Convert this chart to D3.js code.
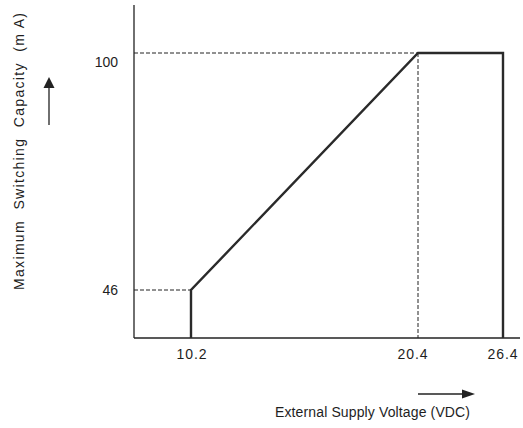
<!DOCTYPE html>
<html><head><meta charset="utf-8">
<script src="https://cdn.jsdelivr.net/npm/d3@7"></script>
<style>
body{margin:0;background:#fff;}
text{font-family:"Liberation Sans",Arial,sans-serif;fill:#1e1e1e;white-space:pre;}
</style></head><body>
<svg id="c" width="523" height="428"></svg>
<script>
// Data
const xTicks = [10.2, 20.4, 26.4];
const xTickLabels = ["10.2", "20.4", "26.4"];
const yTicks = [46, 100];
const yTickLabels = ["46", "100"];
const curveX = [10.2, 10.2, 20.4, 26.4, 26.4];
const curveY = [null, 46, 100, 100, null]; // null = down to the x axis
const xTitle = "External Supply Voltage (VDC)";
const yTitle = "Maximum  Switching  Capacity  (m A)";

const svg = d3.select("#c");
const ax = {left:134, right:520, top:5, bottom:338};

// piecewise (non-uniform) scales as in the reference drawing
const x = d3.scaleLinear().domain([10.2, 20.4, 26.4]).range([191, 418, 503]);
const y = d3.scaleLinear().domain([46, 100]).range([290, 53]);

const ink = "#222";

// axis lines
svg.append("line").attr("x1",ax.left).attr("x2",ax.left).attr("y1",ax.top).attr("y2",ax.bottom)
  .attr("stroke",ink).attr("stroke-width",1.3);
svg.append("line").attr("x1",ax.left).attr("x2",ax.right).attr("y1",ax.bottom).attr("y2",ax.bottom)
  .attr("stroke",ink).attr("stroke-width",1.3);

// dashed guides
const dash = svg.append("g").attr("stroke",ink).attr("stroke-width",1).attr("stroke-dasharray","4,2").attr("fill","none");
dash.append("line").attr("x1",ax.left).attr("x2",x(10.2)).attr("y1",y(46)).attr("y2",y(46));
dash.append("line").attr("x1",ax.left).attr("x2",x(20.4)).attr("y1",y(100)).attr("y2",y(100));
dash.append("line").attr("x1",x(20.4)).attr("x2",x(20.4)).attr("y1",y(100)).attr("y2",ax.bottom);

// curve
const pts = curveX.map((v,i)=>[x(v), curveY[i]==null ? ax.bottom : y(curveY[i])]);
svg.append("path").attr("d", d3.line()(pts)).attr("fill","none").attr("stroke","#2a2a2a")
  .attr("stroke-width",2.4).attr("stroke-linejoin","miter");

// x tick labels
const xOff = [1, -5, 0];
svg.selectAll(".xl").data(xTicks).enter().append("text")
  .attr("x",(d,i)=>x(d)+xOff[i]).attr("y",359).attr("text-anchor","middle")
  .attr("font-size",14).attr("letter-spacing",1).text((d,i)=>xTickLabels[i]);

// y tick labels
const yOff = [5, 14];
svg.selectAll(".yl").data(yTicks).enter().append("text")
  .attr("x",118).attr("y",(d,i)=>y(d)+yOff[i]).attr("text-anchor","end")
  .attr("font-size",14).text((d,i)=>yTickLabels[i]);

// titles
svg.append("text").attr("x",275).attr("y",417).attr("font-size",14)
  .attr("textLength",195).attr("lengthAdjust","spacing").text(xTitle);
svg.append("text").attr("transform","translate(24,151.5) rotate(-90)").attr("text-anchor","middle")
  .attr("font-size",14).attr("textLength",277).attr("lengthAdjust","spacing").text(yTitle);

// arrows (explicit heads)
svg.append("line").attr("x1",418).attr("x2",464).attr("y1",394).attr("y2",394)
  .attr("stroke",ink).attr("stroke-width",1.3);
svg.append("path").attr("d","M475,394L462,389.5L462,398.5Z").attr("fill",ink);
svg.append("line").attr("x1",49).attr("x2",49).attr("y1",125).attr("y2",85)
  .attr("stroke",ink).attr("stroke-width",1.3);
svg.append("path").attr("d","M49,77L43.5,88L54.5,88Z").attr("fill",ink);
</script></body></html>
